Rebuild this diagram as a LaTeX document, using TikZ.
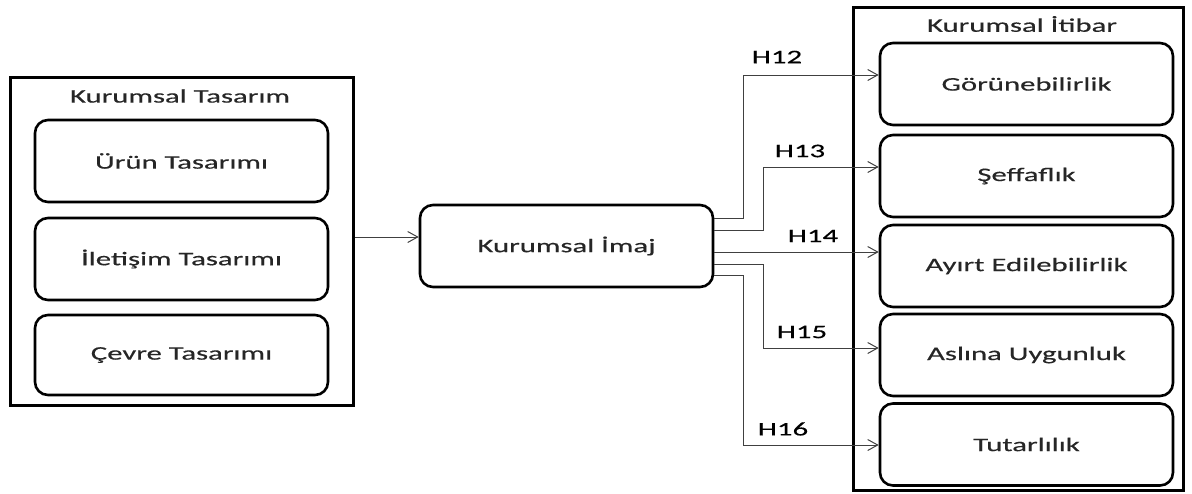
\documentclass[tikz,border=0pt]{standalone}
\usepackage{fontspec}
\setmainfont{Carlito}[FakeStretch=1.6,FakeBold=0.4]
\usetikzlibrary{arrows.meta}
\begin{document}
\begin{tikzpicture}[x=0.5pt,y=-0.5pt,
  every node/.style={font=\fontsize{9.6}{11}\selectfont, text=black!85},
  group/.style={draw, line width=1.5pt, inner sep=0pt},
  inbox/.style={draw, line width=1.3pt, rounded corners=6.5pt, inner sep=0pt,
    minimum width=146.5pt, minimum height=41pt},
  link/.style={draw=black!75, line width=0.5pt,
    -{Straight Barb[length=5pt,width=5.5pt]}},
  hyp/.style={text=black}]
\useasboundingbox (0,0) rectangle (1192,493);

% Kurumsal Tasarım group
\node[group, minimum width=171.5pt, minimum height=164pt] (lg) at (181.5,241) {};
\node (lt) at (180,96) {Kurumsal Tasarım};
\node[inbox] (l1) at (181.5,161) {Ürün Tasarımı};
\node[inbox] (l2) at (181.5,259) {İletişim Tasarımı};
\node[inbox, minimum height=40pt] (l3) at (181.5,355) {Çevre Tasarımı};

% Kurumsal İmaj
\node[inbox] (im) at (566.5,246) {Kurumsal İmaj};

% Kurumsal İtibar group
\node[group, minimum width=165pt, minimum height=241.5pt] (rg) at (1018,248.5) {};
\node (rt) at (1022,24) {Kurumsal İtibar};
\node[inbox] (r1) at (1026.5,84) {Görünebilirlik};
\node[inbox] (r2) at (1026.5,176) {Şeffaflık};
\node[inbox] (r3) at (1026.5,266) {Ayırt Edilebilirlik};
\node[inbox] (r4) at (1026.5,355) {Aslına Uygunluk};
\node[inbox] (r5) at (1026.5,444.5) {Tutarlılık};

% bend points of the hypothesis paths
\coordinate (k12) at (743,75);
\coordinate (k13) at (763,167);
\coordinate (k15) at (763,348);
\coordinate (k16) at (743,445);

% connectors
\draw[link] ([yshift=2pt]lg.east) -- ([yshift=2pt]lg.east -| im.west);
\draw[link] ([yshift=14pt]im.east) -| (k12) -- (k12 -| r1.west);
\draw[link] ([yshift=8pt]im.east) -| (k13) -- (k13 -| r2.west);
\draw[link] ([yshift=-3pt]im.east) -- ([yshift=-3pt]im.east -| r3.west);
\draw[link] ([yshift=-9pt]im.east) -| (k15) -- (k15 -| r4.west);
\draw[link] ([yshift=-14.5pt]im.east) -| (k16) -- (k16 -| r5.west);

% hypothesis labels
\node[hyp] (h12) at (777,57) {H12};
\node[hyp] (h13) at (800,151) {H13};
\node[hyp] (h14) at (813,236) {H14};
\node[hyp] (h15) at (802,332) {H15};
\node[hyp] (h16) at (783,429) {H16};
\end{tikzpicture}
\end{document}
